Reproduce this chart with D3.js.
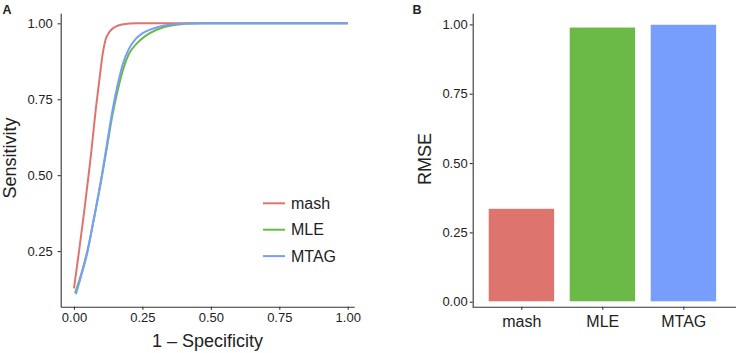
<!DOCTYPE html>
<head>
  <meta charset="utf-8">
  <script src="https://cdn.jsdelivr.net/npm/d3@7"></script>
  <style>
    body { margin: 0; background: #fff; font-family: 'Liberation Sans', Arial, sans-serif; }
    svg text { fill: #222; }
  </style>
</head>
<body>
<svg id=chart width=736 height=353></svg>
<script>
// series and labels
const methods = ['mash', 'MLE', 'MTAG']
const colors = ['#DE746E', '#6BBA47', '#779DFD']
const roc_mash = [[0, 0.127], [0.02, 0.26], [0.04, 0.4], [0.06, 0.55], [0.08, 0.72], [0.095, 0.83], [0.105, 0.9], [0.115, 0.945], [0.13, 0.972], [0.15, 0.988], [0.175, 0.996], [0.23, 1], [1, 1]]
const roc_mle = [[0.004, 0.112], [0.03, 0.185], [0.05, 0.255], [0.065, 0.32], [0.08, 0.39], [0.1, 0.485], [0.12, 0.59], [0.14, 0.695], [0.16, 0.78], [0.18, 0.85], [0.2, 0.898], [0.23, 0.934], [0.26, 0.958], [0.3, 0.978], [0.36, 0.994], [0.45, 1], [1, 1]]
const roc_mtag = [[0.007, 0.108], [0.03, 0.18], [0.05, 0.25], [0.065, 0.32], [0.08, 0.39], [0.1, 0.49], [0.12, 0.6], [0.14, 0.71], [0.16, 0.8], [0.18, 0.87], [0.2, 0.915], [0.225, 0.948], [0.25, 0.967], [0.28, 0.98], [0.33, 0.993], [0.4, 0.999], [0.5, 1], [1, 1]]
const rmse = [0.336, 0.99, 1.0]
const roc_ticks = [0, 0.25, 0.5, 0.75, 1]
const sens_ticks = [0.25, 0.5, 0.75, 1]
const rmse_ticks = [0, 0.25, 0.5, 0.75, 1]

const svg = d3.select('#chart')
const fmt = d3.format('.2f')
const axis_color = '#333'

const style_axis = (g, size) => {
  g.select('.domain').attr('stroke', axis_color).attr('stroke-width', 1.1)
  g.selectAll('.tick line').attr('stroke', axis_color).attr('stroke-width', 1.1)
  g.selectAll('.tick text').attr('font-size', size).attr('fill', '#222')
    .attr('font-family', "'Liberation Sans', Arial, sans-serif")
}

// panel A: ROC curves
{
  const x = d3.scaleLinear().domain([-0.0485, 1.024]).range([60.7, 354.3])
  const y = d3.scaleLinear().domain([0.0668, 1.033]).range([306.7, 13.3])

  svg.append('g').attr('transform', 'translate(0,306.7)')
    .call(d3.axisBottom(x).tickValues(roc_ticks).tickFormat(fmt).tickSize(3).tickSizeOuter(0).tickPadding(3.5))
    .call(g => style_axis(g, 13))
  svg.append('g').attr('transform', 'translate(60.7,0)')
    .call(d3.axisLeft(y).tickValues(sens_ticks).tickFormat(fmt).tickSize(3).tickSizeOuter(0).tickPadding(5))
    .call(g => style_axis(g, 13))

  const line = d3.line().x(d => x(d[0])).y(d => y(d[1])).curve(d3.curveMonotoneX)
  const series = [roc_mash, roc_mle, roc_mtag]
  svg.append('g').selectAll('path').data(series).join('path')
    .attr('d', line)
    .attr('fill', 'none')
    .attr('stroke', (d, i) => colors[i])
    .attr('stroke-width', 2)

  // legend
  const lg = svg.append('g').attr('transform', 'translate(263,203.3)')
  methods.forEach((m, i) => {
    const row = lg.append('g').attr('transform', `translate(0,${i * 26.4})`)
    row.append('line').attr('x1', 0).attr('x2', 22).attr('stroke', colors[i]).attr('stroke-width', 2)
    row.append('text').attr('x', 28).attr('dy', '0.36em').attr('font-size', 16).text(m)
  })

  svg.append('text').attr('x', 207.5).attr('y', 346.5).attr('text-anchor', 'middle')
    .attr('font-size', 18).text('1 – Specificity')
  svg.append('text').attr('transform', 'translate(15.5,158) rotate(-90)').attr('text-anchor', 'middle')
    .attr('font-size', 18).text('Sensitivity')
  svg.append('text').attr('x', 2.5).attr('y', 13.5).attr('font-size', 12.5).attr('font-weight', 'bold').text('A')
}

// panel B: RMSE bars
{
  const x = d3.scalePoint().domain(methods).range([472.7, 731.9]).padding(0.6)
  const y = d3.scaleLinear().domain([-0.018, 1.04]).range([306.7, 13.3])
  const bw = x.step() * 0.815

  svg.append('g').selectAll('rect').data(rmse).join('rect')
    .attr('x', (d, i) => x(methods[i]) - bw / 2)
    .attr('width', bw)
    .attr('y', d => y(d))
    .attr('height', d => y(0) - y(d))
    .attr('fill', (d, i) => colors[i])
    .attr('stroke', '#fff').attr('stroke-width', 0.6)

  svg.append('g').attr('transform', 'translate(0,306.7)')
    .call(d3.axisBottom(x).tickSize(3).tickSizeOuter(0).tickPadding(6))
    .call(g => style_axis(g, 16))
    .call(g => g.select('.domain').attr('d', 'M472.7,0.5H736'))
  svg.append('g').attr('transform', 'translate(472.7,0)')
    .call(d3.axisLeft(y).tickValues(rmse_ticks).tickFormat(fmt).tickSize(3).tickSizeOuter(0).tickPadding(2))
    .call(g => style_axis(g, 13))

  svg.append('text').attr('transform', 'translate(431,159) rotate(-90)').attr('text-anchor', 'middle')
    .attr('font-size', 18).text('RMSE')
  svg.append('text').attr('x', 412.5).attr('y', 13.5).attr('font-size', 12.5).attr('font-weight', 'bold').text('B')
}
</script>
</body>
